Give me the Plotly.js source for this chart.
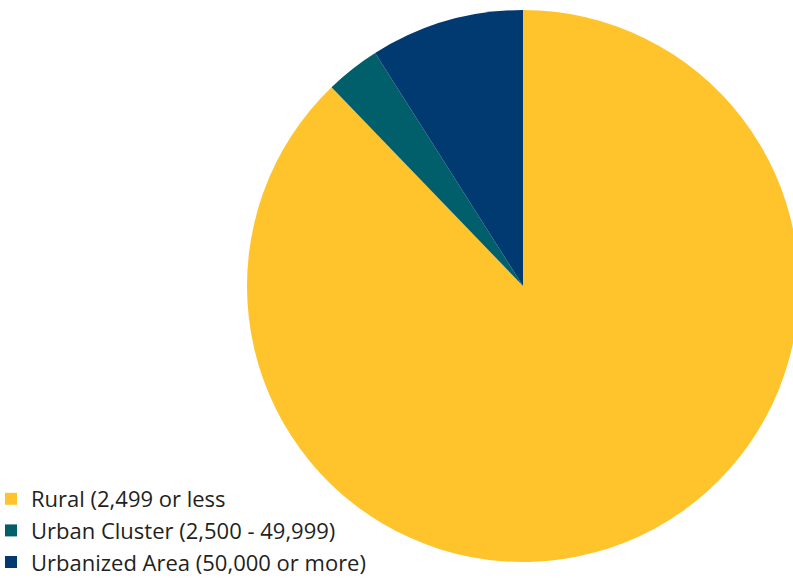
<!DOCTYPE html>
<html>
<head>
<meta charset="utf-8">
<script src="https://cdn.plot.ly/plotly-3.0.1.min.js"></script>
<style>
html,body{margin:0;padding:0;overflow:hidden;background:#fff;width:793px;height:579px;position:relative;}
#chart{position:absolute;left:-9px;top:0;width:809px;height:583px;}
</style>
</head>
<body>
<div id="chart"></div>
<script>
const categories = ["Rural (2,499 or less", "Urban Cluster (2,500 - 49,999)", "Urbanized Area (50,000 or more)"];
const shares = [87.8, 3.2, 9.0];
const colors = ["#FFC42B", "#005F6B", "#003A70"];

// pie placed at pixels x:[256,808], y(top-down):[10,562] within an 809x583 plot
const W = 809, H = 583;
const data = [{
  type: "pie",
  labels: categories,
  values: shares,
  sort: false,
  direction: "clockwise",
  rotation: 0,
  textinfo: "none",
  hoverinfo: "label+percent",
  marker: {colors: colors, line: {width: 0}},
  domain: {x: [256 / W, 808 / W], y: [(H - 562) / H, (H - 10) / H]}
}];

const layout = {
  width: W,
  height: H,
  margin: {l: 0, r: 0, t: 0, b: 0},
  paper_bgcolor: "#ffffff",
  showlegend: true,
  legend: {
    x: 0, y: 0, xanchor: "left", yanchor: "bottom",
    font: {family: "Open Sans, sans-serif", size: 22, color: "#231f20"},
    bgcolor: "rgba(0,0,0,0)",
    itemwidth: 30,
    traceorder: "normal"
  }
};

Plotly.newPlot("chart", data, layout, {staticPlot: true});
</script>
</body>
</html>
